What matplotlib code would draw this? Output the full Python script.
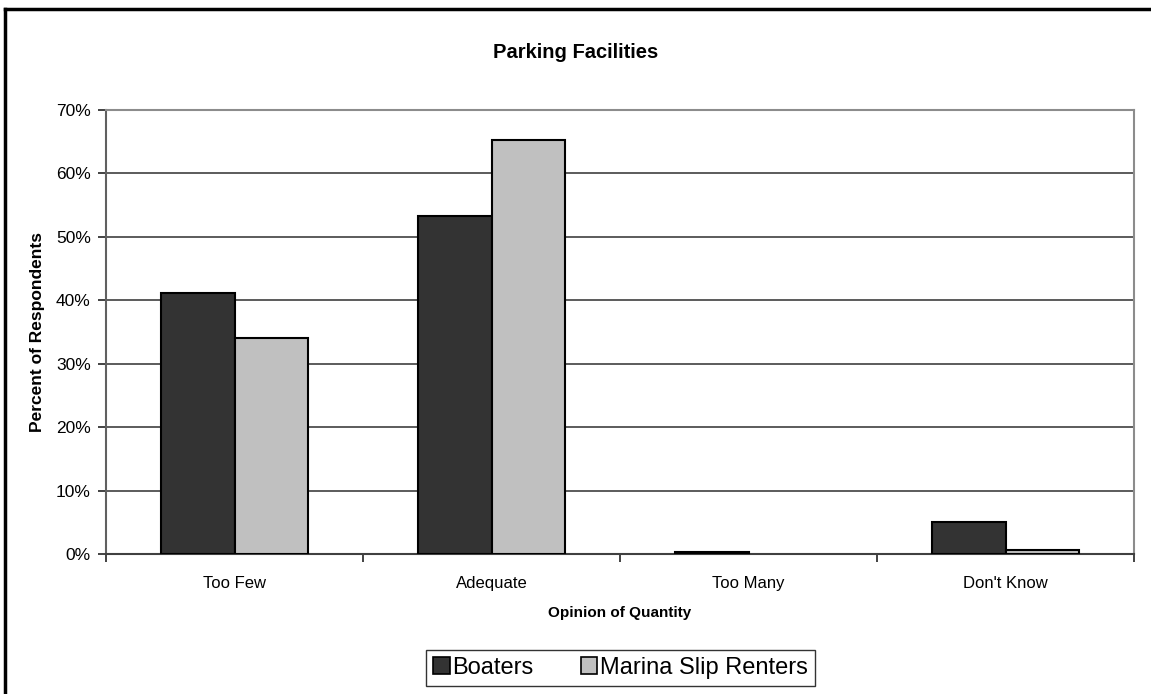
import matplotlib
matplotlib.use("Agg")
import matplotlib.pyplot as plt
import numpy as np
from matplotlib.patches import Rectangle
from matplotlib.lines import Line2D

plt.rcParams['font.family'] = ['Liberation Sans', 'DejaVu Sans']

categories = ["Too Few", "Adequate", "Too Many", "Don't Know"]
series_names = ["Boaters", "Marina Slip Renters"]
boaters = [41.2, 53.3, 0.3, 5.0]
marina = [34.0, 65.2, 0.0, 0.6]
colors = ["#333333", "#C0C0C0"]

W, H = 1151, 694
fig = plt.figure(figsize=(W / 100, H / 100), dpi=100)
fig.patch.set_facecolor("white")

# outer border (left and top visible)
fig.add_artist(Line2D([5 / W, 5 / W], [0, 1 - 8.5 / H], transform=fig.transFigure, color="black", lw=2.5))
fig.add_artist(Line2D([5 / W, 1], [1 - 8.5 / H, 1 - 8.5 / H], transform=fig.transFigure, color="black", lw=2.5))

ax = fig.add_axes([106 / W, (H - 554) / H, (1134 - 106) / W, (554 - 110) / H])

x = np.arange(len(categories))
bw = 1 / 3.5
lw_b = [1.5 if v > 0 else 0 for v in boaters]
lw_m = [1.5 if v > 0 else 0 for v in marina]
ax.bar(x - bw / 2, boaters, width=bw, color=colors[0], edgecolor="black", linewidth=lw_b, label=series_names[0], zorder=3)
ax.bar(x + bw / 2, marina, width=bw, color=colors[1], edgecolor="black", linewidth=lw_m, label=series_names[1], zorder=3)

ax.set_xlim(-0.5, len(categories) - 0.5)
ax.set_ylim(0, 70)
ax.set_yticks(np.arange(0, 71, 10))
ax.set_yticklabels([f"{v}%" for v in range(0, 71, 10)], fontsize=12.5)
ax.yaxis.grid(True, color="#404040", linewidth=1.2, zorder=0)
ax.set_axisbelow(True)

ax.set_xticks(np.arange(-0.5, len(categories), 1.0))
ax.set_xticklabels([])
ax.set_xticks(x, minor=True)
ax.set_xticklabels(categories, minor=True, fontsize=12)
ax.tick_params(axis="x", which="minor", length=0, pad=16)
ax.tick_params(axis="x", which="major", direction="out", length=6, width=1.2, color="#222222")
ax.tick_params(axis="y", direction="out", length=6, width=1.2, color="#222222", pad=5)

for s in ["top", "right"]:
    ax.spines[s].set_color("#8c8c8c")
    ax.spines[s].set_linewidth(1.5)
ax.spines["left"].set_color("#606060")
ax.spines["left"].set_linewidth(1.5)
ax.spines["bottom"].set_color("#404040")
ax.spines["bottom"].set_linewidth(1.5)

ax.set_xlabel("Opinion of Quantity", fontsize=11, fontweight="bold", labelpad=11)
ax.set_ylabel("Percent of Respondents", fontsize=12.5, fontweight="bold", labelpad=8)

fig.text(0.5, 1 - 53 / H, "Parking Facilities", ha="center", va="center", fontsize=14.5, fontweight="bold")

handles = [Rectangle((0, 0), 1, 1, facecolor=c, edgecolor="black", linewidth=1.2) for c in colors]
leg = fig.legend(handles, series_names, loc="center", bbox_to_anchor=((423 + 818) / 2 / W, 1 - 668 / H),
                 ncol=2, fontsize=17, frameon=True, fancybox=False, edgecolor="black",
                 handlelength=0.7, handleheight=0.7, handletextpad=0.1, columnspacing=2.0,
                 borderpad=0.3, borderaxespad=0)
leg.get_frame().set_linewidth(1.0)

fig.savefig("out.png", dpi=100, facecolor="white")
